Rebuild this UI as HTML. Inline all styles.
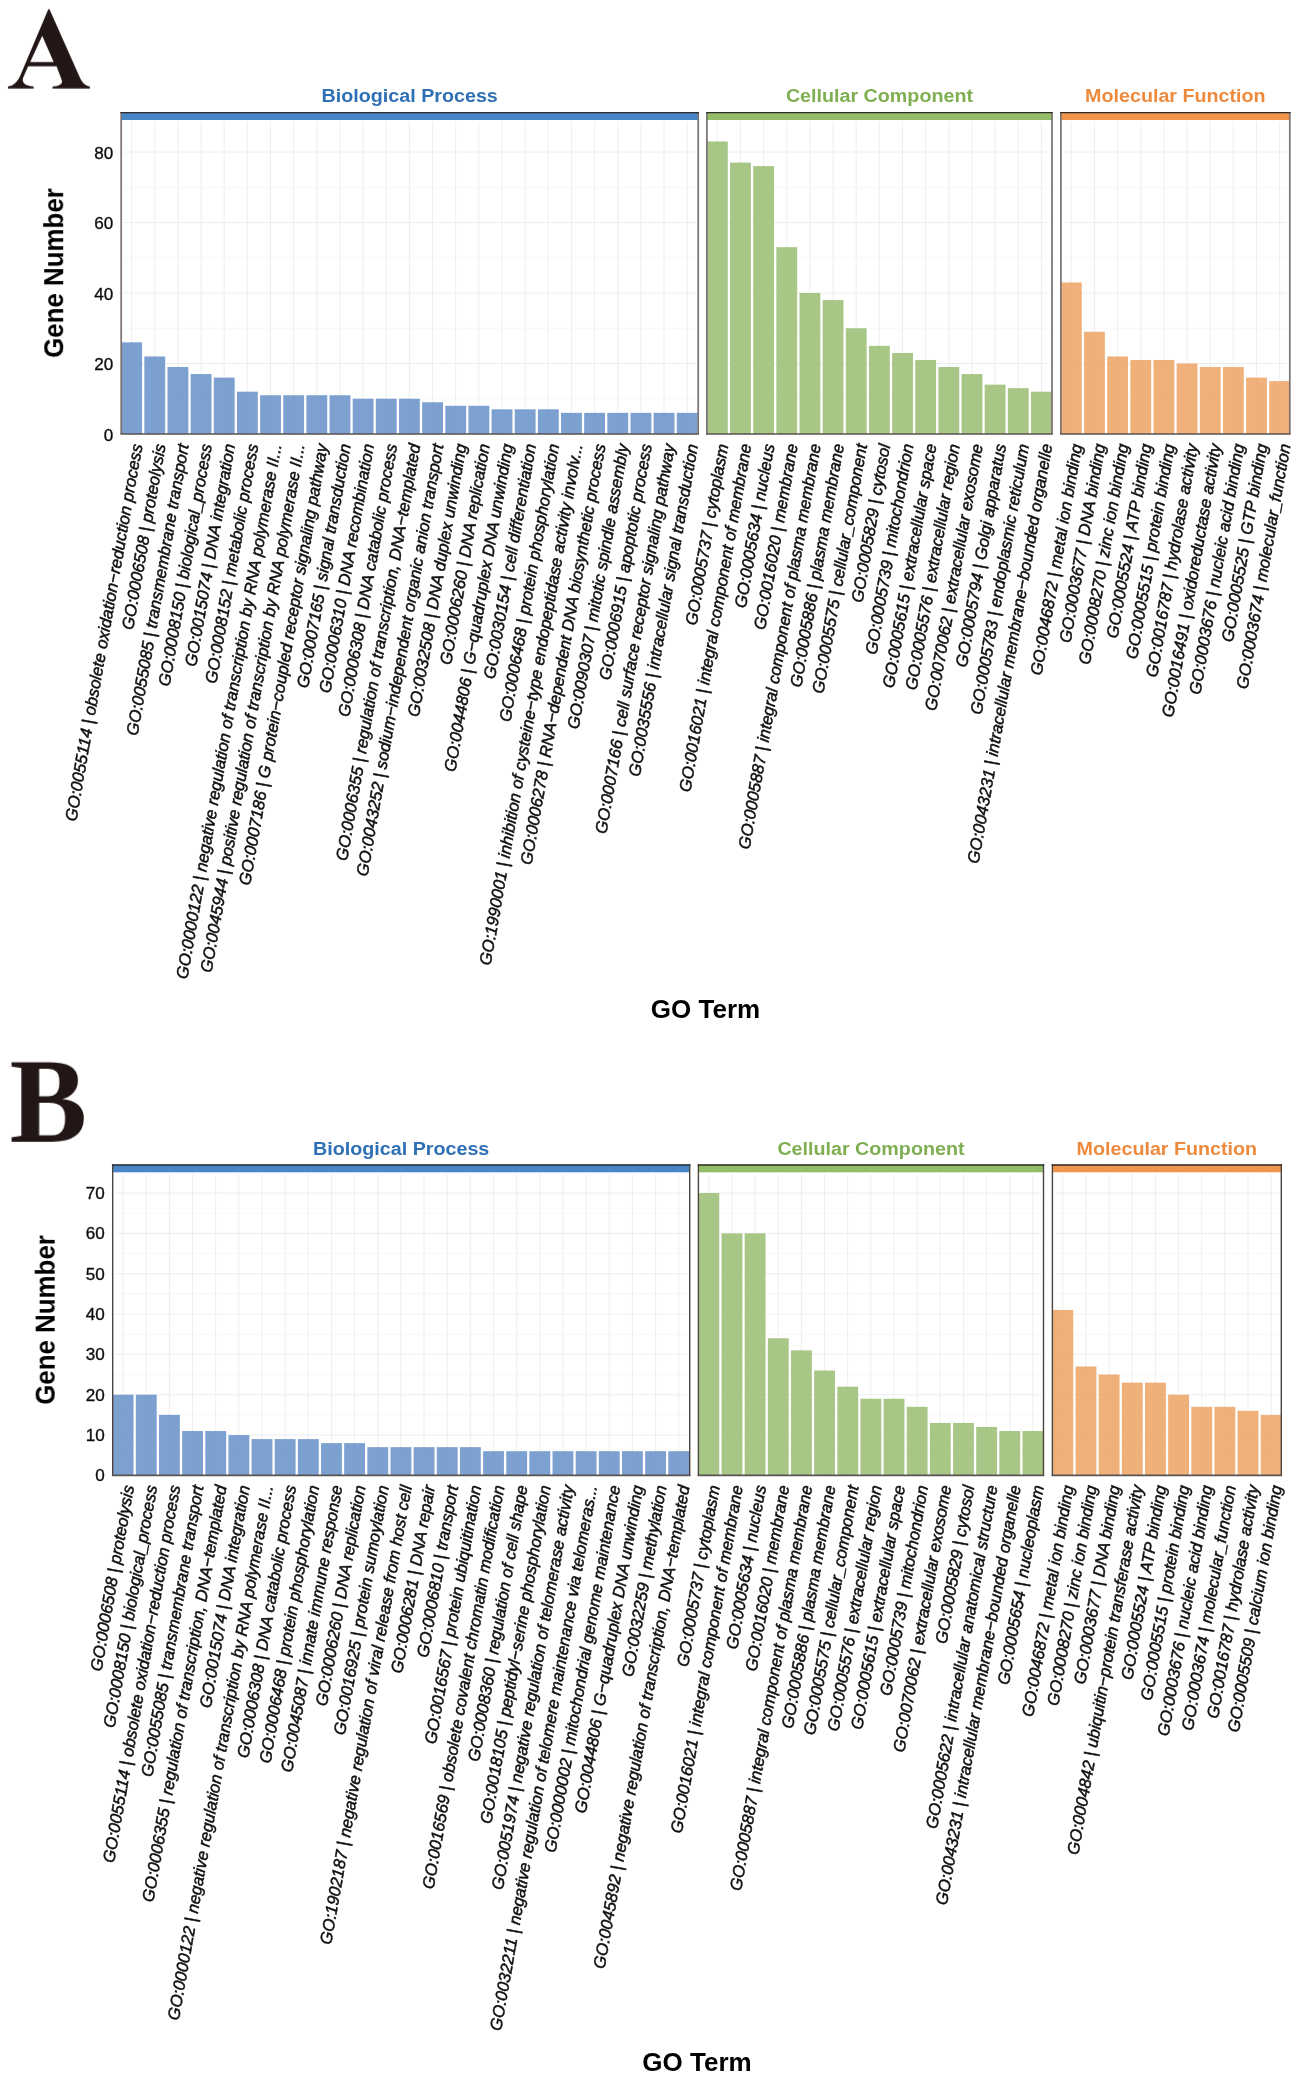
<!DOCTYPE html>
<html><head><meta charset="utf-8"><title>GO enrichment</title>
<style>
html,body{margin:0;padding:0;background:#fff;}
body{width:1299px;height:2081px;overflow:hidden;font-family:"Liberation Sans",sans-serif;}
svg{display:block;will-change:transform;font-family:"Liberation Sans",sans-serif;}
</style></head><body>
<svg width="1299" height="2081" viewBox="0 0 1299 2081">
<defs><filter id="soft" x="0" y="0" width="100%" height="100%" filterUnits="userSpaceOnUse"><feGaussianBlur stdDeviation="0.45"/></filter></defs>
<rect width="1299" height="2081" fill="#fff"/>
<g filter="url(#soft)">
<g id="panelA">
<rect x="121.2" y="112.2" width="577" height="321.8" fill="#fff"/>
<path d="M123.8 398.75H695.6M123.8 328.25H695.6M123.8 257.75H695.6M123.8 187.25H695.6" stroke="#f5f5f5" stroke-width="0.8" fill="none"/>
<path d="M123.8 434H695.6M123.8 363.5H695.6M123.8 293H695.6M123.8 222.5H695.6M123.8 152H695.6M131.62 121.8V434M154.77 121.8V434M177.92 121.8V434M201.07 121.8V434M224.22 121.8V434M247.37 121.8V434M270.52 121.8V434M293.67 121.8V434M316.82 121.8V434M339.97 121.8V434M363.12 121.8V434M386.27 121.8V434M409.42 121.8V434M432.57 121.8V434M455.72 121.8V434M478.87 121.8V434M502.02 121.8V434M525.17 121.8V434M548.32 121.8V434M571.47 121.8V434M594.62 121.8V434M617.77 121.8V434M640.92 121.8V434M664.07 121.8V434M687.22 121.8V434" stroke="#ebeced" stroke-width="0.9" fill="none"/>
<rect x="121.2" y="342.35" width="20.84" height="91.65" fill="#7199cb" fill-opacity="0.93"/>
<rect x="144.35" y="356.45" width="20.84" height="77.55" fill="#7199cb" fill-opacity="0.93"/>
<rect x="167.5" y="367.02" width="20.84" height="66.97" fill="#7199cb" fill-opacity="0.93"/>
<rect x="190.65" y="374.07" width="20.84" height="59.92" fill="#7199cb" fill-opacity="0.93"/>
<rect x="213.8" y="377.6" width="20.84" height="56.4" fill="#7199cb" fill-opacity="0.93"/>
<rect x="236.95" y="391.7" width="20.84" height="42.3" fill="#7199cb" fill-opacity="0.93"/>
<rect x="260.1" y="395.23" width="20.84" height="38.77" fill="#7199cb" fill-opacity="0.93"/>
<rect x="283.25" y="395.23" width="20.84" height="38.77" fill="#7199cb" fill-opacity="0.93"/>
<rect x="306.4" y="395.23" width="20.84" height="38.77" fill="#7199cb" fill-opacity="0.93"/>
<rect x="329.55" y="395.23" width="20.84" height="38.77" fill="#7199cb" fill-opacity="0.93"/>
<rect x="352.7" y="398.75" width="20.84" height="35.25" fill="#7199cb" fill-opacity="0.93"/>
<rect x="375.85" y="398.75" width="20.84" height="35.25" fill="#7199cb" fill-opacity="0.93"/>
<rect x="399" y="398.75" width="20.84" height="35.25" fill="#7199cb" fill-opacity="0.93"/>
<rect x="422.15" y="402.27" width="20.84" height="31.72" fill="#7199cb" fill-opacity="0.93"/>
<rect x="445.3" y="405.8" width="20.84" height="28.2" fill="#7199cb" fill-opacity="0.93"/>
<rect x="468.45" y="405.8" width="20.84" height="28.2" fill="#7199cb" fill-opacity="0.93"/>
<rect x="491.6" y="409.32" width="20.84" height="24.68" fill="#7199cb" fill-opacity="0.93"/>
<rect x="514.75" y="409.32" width="20.84" height="24.68" fill="#7199cb" fill-opacity="0.93"/>
<rect x="537.9" y="409.32" width="20.84" height="24.68" fill="#7199cb" fill-opacity="0.93"/>
<rect x="561.05" y="412.85" width="20.84" height="21.15" fill="#7199cb" fill-opacity="0.93"/>
<rect x="584.2" y="412.85" width="20.84" height="21.15" fill="#7199cb" fill-opacity="0.93"/>
<rect x="607.35" y="412.85" width="20.84" height="21.15" fill="#7199cb" fill-opacity="0.93"/>
<rect x="630.5" y="412.85" width="20.84" height="21.15" fill="#7199cb" fill-opacity="0.93"/>
<rect x="653.65" y="412.85" width="20.84" height="21.15" fill="#7199cb" fill-opacity="0.93"/>
<rect x="676.8" y="412.85" width="20.84" height="21.15" fill="#7199cb" fill-opacity="0.93"/>
<rect x="121.2" y="112.2" width="577" height="7.8" fill="#4a86c6"/>
<path d="M121.2 112.2V434M698.2 112.2V434" stroke="#7a716f" stroke-width="1.7" fill="none"/>
<path d="M120.4 434H699" stroke="#5a5352" stroke-width="1.6" fill="none"/>
<path d="M120.4 112.6H699" stroke="#2e2b2b" stroke-width="1.3" fill="none"/>
<text transform="translate(409.7 102.2) scale(1.095 1)" text-anchor="middle" font-weight="bold" font-size="18" fill="#2f6fb5">Biological Process</text>
<text transform="translate(142.62 445) rotate(-80)" text-anchor="end" font-style="italic" font-size="16.65" fill="#111" stroke="#111" stroke-width="0.5">GO:0055114 | obsolete oxidation−reduction process</text>
<text transform="translate(165.77 445) rotate(-80)" text-anchor="end" font-style="italic" font-size="16.65" fill="#111" stroke="#111" stroke-width="0.5">GO:0006508 | proteolysis</text>
<text transform="translate(188.92 445) rotate(-80)" text-anchor="end" font-style="italic" font-size="16.65" fill="#111" stroke="#111" stroke-width="0.5">GO:0055085 | transmembrane transport</text>
<text transform="translate(212.07 445) rotate(-80)" text-anchor="end" font-style="italic" font-size="16.65" fill="#111" stroke="#111" stroke-width="0.5">GO:0008150 | biological_process</text>
<text transform="translate(235.22 445) rotate(-80)" text-anchor="end" font-style="italic" font-size="16.65" fill="#111" stroke="#111" stroke-width="0.5">GO:0015074 | DNA integration</text>
<text transform="translate(258.37 445) rotate(-80)" text-anchor="end" font-style="italic" font-size="16.65" fill="#111" stroke="#111" stroke-width="0.5">GO:0008152 | metabolic process</text>
<text transform="translate(281.52 445) rotate(-80)" text-anchor="end" font-style="italic" font-size="16.65" fill="#111" stroke="#111" stroke-width="0.5">GO:0000122 | negative regulation of transcription by RNA polymerase II...</text>
<text transform="translate(304.67 445) rotate(-80)" text-anchor="end" font-style="italic" font-size="16.65" fill="#111" stroke="#111" stroke-width="0.5">GO:0045944 | positive regulation of transcription by RNA polymerase II...</text>
<text transform="translate(327.82 445) rotate(-80)" text-anchor="end" font-style="italic" font-size="16.65" fill="#111" stroke="#111" stroke-width="0.5">GO:0007186 | G protein−coupled receptor signaling pathway</text>
<text transform="translate(350.97 445) rotate(-80)" text-anchor="end" font-style="italic" font-size="16.65" fill="#111" stroke="#111" stroke-width="0.5">GO:0007165 | signal transduction</text>
<text transform="translate(374.12 445) rotate(-80)" text-anchor="end" font-style="italic" font-size="16.65" fill="#111" stroke="#111" stroke-width="0.5">GO:0006310 | DNA recombination</text>
<text transform="translate(397.27 445) rotate(-80)" text-anchor="end" font-style="italic" font-size="16.65" fill="#111" stroke="#111" stroke-width="0.5">GO:0006308 | DNA catabolic process</text>
<text transform="translate(420.42 445) rotate(-80)" text-anchor="end" font-style="italic" font-size="16.65" fill="#111" stroke="#111" stroke-width="0.5">GO:0006355 | regulation of transcription, DNA−templated</text>
<text transform="translate(443.57 445) rotate(-80)" text-anchor="end" font-style="italic" font-size="16.65" fill="#111" stroke="#111" stroke-width="0.5">GO:0043252 | sodium−independent organic anion transport</text>
<text transform="translate(466.72 445) rotate(-80)" text-anchor="end" font-style="italic" font-size="16.65" fill="#111" stroke="#111" stroke-width="0.5">GO:0032508 | DNA duplex unwinding</text>
<text transform="translate(489.87 445) rotate(-80)" text-anchor="end" font-style="italic" font-size="16.65" fill="#111" stroke="#111" stroke-width="0.5">GO:0006260 | DNA replication</text>
<text transform="translate(513.02 445) rotate(-80)" text-anchor="end" font-style="italic" font-size="16.65" fill="#111" stroke="#111" stroke-width="0.5">GO:0044806 | G−quadruplex DNA unwinding</text>
<text transform="translate(536.17 445) rotate(-80)" text-anchor="end" font-style="italic" font-size="16.65" fill="#111" stroke="#111" stroke-width="0.5">GO:0030154 | cell differentiation</text>
<text transform="translate(559.32 445) rotate(-80)" text-anchor="end" font-style="italic" font-size="16.65" fill="#111" stroke="#111" stroke-width="0.5">GO:0006468 | protein phosphorylation</text>
<text transform="translate(582.47 445) rotate(-80)" text-anchor="end" font-style="italic" font-size="16.65" fill="#111" stroke="#111" stroke-width="0.5">GO:1990001 | inhibition of cysteine−type endopeptidase activity involv...</text>
<text transform="translate(605.62 445) rotate(-80)" text-anchor="end" font-style="italic" font-size="16.65" fill="#111" stroke="#111" stroke-width="0.5">GO:0006278 | RNA−dependent DNA biosynthetic process</text>
<text transform="translate(628.77 445) rotate(-80)" text-anchor="end" font-style="italic" font-size="16.65" fill="#111" stroke="#111" stroke-width="0.5">GO:0090307 | mitotic spindle assembly</text>
<text transform="translate(651.92 445) rotate(-80)" text-anchor="end" font-style="italic" font-size="16.65" fill="#111" stroke="#111" stroke-width="0.5">GO:0006915 | apoptotic process</text>
<text transform="translate(675.07 445) rotate(-80)" text-anchor="end" font-style="italic" font-size="16.65" fill="#111" stroke="#111" stroke-width="0.5">GO:0007166 | cell surface receptor signaling pathway</text>
<text transform="translate(698.22 445) rotate(-80)" text-anchor="end" font-style="italic" font-size="16.65" fill="#111" stroke="#111" stroke-width="0.5">GO:0035556 | intracellular signal transduction</text>
<rect x="706.9" y="112.2" width="345.1" height="321.8" fill="#fff"/>
<path d="M709.5 398.75H1049.4M709.5 328.25H1049.4M709.5 257.75H1049.4M709.5 187.25H1049.4" stroke="#f5f5f5" stroke-width="0.8" fill="none"/>
<path d="M709.5 434H1049.4M709.5 363.5H1049.4M709.5 293H1049.4M709.5 222.5H1049.4M709.5 152H1049.4M717.32 121.8V434M740.47 121.8V434M763.62 121.8V434M786.77 121.8V434M809.92 121.8V434M833.07 121.8V434M856.22 121.8V434M879.37 121.8V434M902.52 121.8V434M925.67 121.8V434M948.82 121.8V434M971.97 121.8V434M995.12 121.8V434M1018.27 121.8V434M1041.42 121.8V434" stroke="#ebeced" stroke-width="0.9" fill="none"/>
<rect x="706.9" y="141.43" width="20.84" height="292.57" fill="#a1c27d" fill-opacity="0.93"/>
<rect x="730.05" y="162.57" width="20.84" height="271.43" fill="#a1c27d" fill-opacity="0.93"/>
<rect x="753.2" y="166.1" width="20.84" height="267.9" fill="#a1c27d" fill-opacity="0.93"/>
<rect x="776.35" y="247.18" width="20.84" height="186.82" fill="#a1c27d" fill-opacity="0.93"/>
<rect x="799.5" y="293" width="20.84" height="141" fill="#a1c27d" fill-opacity="0.93"/>
<rect x="822.65" y="300.05" width="20.84" height="133.95" fill="#a1c27d" fill-opacity="0.93"/>
<rect x="845.8" y="328.25" width="20.84" height="105.75" fill="#a1c27d" fill-opacity="0.93"/>
<rect x="868.95" y="345.88" width="20.84" height="88.12" fill="#a1c27d" fill-opacity="0.93"/>
<rect x="892.1" y="352.93" width="20.84" height="81.08" fill="#a1c27d" fill-opacity="0.93"/>
<rect x="915.25" y="359.98" width="20.84" height="74.02" fill="#a1c27d" fill-opacity="0.93"/>
<rect x="938.4" y="367.02" width="20.84" height="66.97" fill="#a1c27d" fill-opacity="0.93"/>
<rect x="961.55" y="374.07" width="20.84" height="59.92" fill="#a1c27d" fill-opacity="0.93"/>
<rect x="984.7" y="384.65" width="20.84" height="49.35" fill="#a1c27d" fill-opacity="0.93"/>
<rect x="1007.85" y="388.18" width="20.84" height="45.82" fill="#a1c27d" fill-opacity="0.93"/>
<rect x="1031" y="391.7" width="20.84" height="42.3" fill="#a1c27d" fill-opacity="0.93"/>
<rect x="706.9" y="112.2" width="345.1" height="7.8" fill="#93bd66"/>
<path d="M706.9 112.2V434M1052 112.2V434" stroke="#7a716f" stroke-width="1.7" fill="none"/>
<path d="M706.1 434H1052.8" stroke="#5a5352" stroke-width="1.6" fill="none"/>
<path d="M706.1 112.6H1052.8" stroke="#2e2b2b" stroke-width="1.3" fill="none"/>
<text transform="translate(879.45 102.2) scale(1.095 1)" text-anchor="middle" font-weight="bold" font-size="18" fill="#7fae52">Cellular Component</text>
<text transform="translate(728.32 445) rotate(-80)" text-anchor="end" font-style="italic" font-size="16.65" fill="#111" stroke="#111" stroke-width="0.5">GO:0005737 | cytoplasm</text>
<text transform="translate(751.47 445) rotate(-80)" text-anchor="end" font-style="italic" font-size="16.65" fill="#111" stroke="#111" stroke-width="0.5">GO:0016021 | integral component of membrane</text>
<text transform="translate(774.62 445) rotate(-80)" text-anchor="end" font-style="italic" font-size="16.65" fill="#111" stroke="#111" stroke-width="0.5">GO:0005634 | nucleus</text>
<text transform="translate(797.77 445) rotate(-80)" text-anchor="end" font-style="italic" font-size="16.65" fill="#111" stroke="#111" stroke-width="0.5">GO:0016020 | membrane</text>
<text transform="translate(820.92 445) rotate(-80)" text-anchor="end" font-style="italic" font-size="16.65" fill="#111" stroke="#111" stroke-width="0.5">GO:0005887 | integral component of plasma membrane</text>
<text transform="translate(844.07 445) rotate(-80)" text-anchor="end" font-style="italic" font-size="16.65" fill="#111" stroke="#111" stroke-width="0.5">GO:0005886 | plasma membrane</text>
<text transform="translate(867.22 445) rotate(-80)" text-anchor="end" font-style="italic" font-size="16.65" fill="#111" stroke="#111" stroke-width="0.5">GO:0005575 | cellular_component</text>
<text transform="translate(890.37 445) rotate(-80)" text-anchor="end" font-style="italic" font-size="16.65" fill="#111" stroke="#111" stroke-width="0.5">GO:0005829 | cytosol</text>
<text transform="translate(913.52 445) rotate(-80)" text-anchor="end" font-style="italic" font-size="16.65" fill="#111" stroke="#111" stroke-width="0.5">GO:0005739 | mitochondrion</text>
<text transform="translate(936.67 445) rotate(-80)" text-anchor="end" font-style="italic" font-size="16.65" fill="#111" stroke="#111" stroke-width="0.5">GO:0005615 | extracellular space</text>
<text transform="translate(959.82 445) rotate(-80)" text-anchor="end" font-style="italic" font-size="16.65" fill="#111" stroke="#111" stroke-width="0.5">GO:0005576 | extracellular region</text>
<text transform="translate(982.97 445) rotate(-80)" text-anchor="end" font-style="italic" font-size="16.65" fill="#111" stroke="#111" stroke-width="0.5">GO:0070062 | extracellular exosome</text>
<text transform="translate(1006.12 445) rotate(-80)" text-anchor="end" font-style="italic" font-size="16.65" fill="#111" stroke="#111" stroke-width="0.5">GO:0005794 | Golgi apparatus</text>
<text transform="translate(1029.27 445) rotate(-80)" text-anchor="end" font-style="italic" font-size="16.65" fill="#111" stroke="#111" stroke-width="0.5">GO:0005783 | endoplasmic reticulum</text>
<text transform="translate(1052.42 445) rotate(-80)" text-anchor="end" font-style="italic" font-size="16.65" fill="#111" stroke="#111" stroke-width="0.5">GO:0043231 | intracellular membrane−bounded organelle</text>
<rect x="1060.9" y="112.2" width="228.9" height="321.8" fill="#fff"/>
<path d="M1063.5 398.75H1287.2M1063.5 328.25H1287.2M1063.5 257.75H1287.2M1063.5 187.25H1287.2" stroke="#f5f5f5" stroke-width="0.8" fill="none"/>
<path d="M1063.5 434H1287.2M1063.5 363.5H1287.2M1063.5 293H1287.2M1063.5 222.5H1287.2M1063.5 152H1287.2M1071.32 121.8V434M1094.47 121.8V434M1117.62 121.8V434M1140.77 121.8V434M1163.92 121.8V434M1187.07 121.8V434M1210.22 121.8V434M1233.37 121.8V434M1256.52 121.8V434M1279.67 121.8V434" stroke="#ebeced" stroke-width="0.9" fill="none"/>
<rect x="1060.9" y="282.43" width="20.84" height="151.57" fill="#efaa70" fill-opacity="0.93"/>
<rect x="1084.05" y="331.77" width="20.84" height="102.22" fill="#efaa70" fill-opacity="0.93"/>
<rect x="1107.2" y="356.45" width="20.84" height="77.55" fill="#efaa70" fill-opacity="0.93"/>
<rect x="1130.35" y="359.98" width="20.84" height="74.02" fill="#efaa70" fill-opacity="0.93"/>
<rect x="1153.5" y="359.98" width="20.84" height="74.02" fill="#efaa70" fill-opacity="0.93"/>
<rect x="1176.65" y="363.5" width="20.84" height="70.5" fill="#efaa70" fill-opacity="0.93"/>
<rect x="1199.8" y="367.02" width="20.84" height="66.97" fill="#efaa70" fill-opacity="0.93"/>
<rect x="1222.95" y="367.02" width="20.84" height="66.97" fill="#efaa70" fill-opacity="0.93"/>
<rect x="1246.1" y="377.6" width="20.84" height="56.4" fill="#efaa70" fill-opacity="0.93"/>
<rect x="1269.25" y="381.12" width="20.84" height="52.88" fill="#efaa70" fill-opacity="0.93"/>
<rect x="1060.9" y="112.2" width="228.9" height="7.8" fill="#f0954c"/>
<path d="M1060.9 112.2V434M1289.8 112.2V434" stroke="#7a716f" stroke-width="1.7" fill="none"/>
<path d="M1060.1 434H1290.6" stroke="#5a5352" stroke-width="1.6" fill="none"/>
<path d="M1060.1 112.6H1290.6" stroke="#2e2b2b" stroke-width="1.3" fill="none"/>
<text transform="translate(1175.35 102.2) scale(1.095 1)" text-anchor="middle" font-weight="bold" font-size="18" fill="#ee8a3c">Molecular Function</text>
<text transform="translate(1082.32 445) rotate(-80)" text-anchor="end" font-style="italic" font-size="16.65" fill="#111" stroke="#111" stroke-width="0.5">GO:0046872 | metal ion binding</text>
<text transform="translate(1105.47 445) rotate(-80)" text-anchor="end" font-style="italic" font-size="16.65" fill="#111" stroke="#111" stroke-width="0.5">GO:0003677 | DNA binding</text>
<text transform="translate(1128.62 445) rotate(-80)" text-anchor="end" font-style="italic" font-size="16.65" fill="#111" stroke="#111" stroke-width="0.5">GO:0008270 | zinc ion binding</text>
<text transform="translate(1151.77 445) rotate(-80)" text-anchor="end" font-style="italic" font-size="16.65" fill="#111" stroke="#111" stroke-width="0.5">GO:0005524 | ATP binding</text>
<text transform="translate(1174.92 445) rotate(-80)" text-anchor="end" font-style="italic" font-size="16.65" fill="#111" stroke="#111" stroke-width="0.5">GO:0005515 | protein binding</text>
<text transform="translate(1198.07 445) rotate(-80)" text-anchor="end" font-style="italic" font-size="16.65" fill="#111" stroke="#111" stroke-width="0.5">GO:0016787 | hydrolase activity</text>
<text transform="translate(1221.22 445) rotate(-80)" text-anchor="end" font-style="italic" font-size="16.65" fill="#111" stroke="#111" stroke-width="0.5">GO:0016491 | oxidoreductase activity</text>
<text transform="translate(1244.37 445) rotate(-80)" text-anchor="end" font-style="italic" font-size="16.65" fill="#111" stroke="#111" stroke-width="0.5">GO:0003676 | nucleic acid binding</text>
<text transform="translate(1267.52 445) rotate(-80)" text-anchor="end" font-style="italic" font-size="16.65" fill="#111" stroke="#111" stroke-width="0.5">GO:0005525 | GTP binding</text>
<text transform="translate(1290.67 445) rotate(-80)" text-anchor="end" font-style="italic" font-size="16.65" fill="#111" stroke="#111" stroke-width="0.5">GO:0003674 | molecular_function</text>
<text transform="translate(113.3 440.5) scale(1.03 1)" text-anchor="end" font-size="16.6" fill="#111" stroke="#111" stroke-width="0.35">0</text>
<text transform="translate(113.3 370) scale(1.03 1)" text-anchor="end" font-size="16.6" fill="#111" stroke="#111" stroke-width="0.35">20</text>
<text transform="translate(113.3 299.5) scale(1.03 1)" text-anchor="end" font-size="16.6" fill="#111" stroke="#111" stroke-width="0.35">40</text>
<text transform="translate(113.3 229) scale(1.03 1)" text-anchor="end" font-size="16.6" fill="#111" stroke="#111" stroke-width="0.35">60</text>
<text transform="translate(113.3 158.5) scale(1.03 1)" text-anchor="end" font-size="16.6" fill="#111" stroke="#111" stroke-width="0.35">80</text>
<text transform="translate(63.1 273.1) rotate(-90) scale(1 1.08)" text-anchor="middle" font-weight="bold" font-size="25.9" fill="#000">Gene Number</text>
<text x="705.5" y="1018" text-anchor="middle" font-weight="bold" font-size="26" fill="#000">GO Term</text>
<path transform="scale(0.07698)" d="M640 114L1035 1000C1060 1062 1100 1110 1168 1124L1168 1150L682 1150L682 1124C760 1118 812 1100 805 1050L735 862L365 862L300 1010C282 1062 310 1112 437 1124L437 1150L103 1150L103 1124C170 1110 215 1078 255 1000L624 126ZM548 465L697 805L392 805Z" fill="#231815" fill-rule="evenodd"/>
</g>
<g id="panelB">
<rect x="112.7" y="1164.6" width="577" height="310.8" fill="#fff"/>
<path d="M115.3 1455.23H687.1M115.3 1414.89H687.1M115.3 1374.54H687.1M115.3 1334.2H687.1M115.3 1293.86H687.1M115.3 1253.51H687.1M115.3 1213.17H687.1" stroke="#f5f5f5" stroke-width="0.8" fill="none"/>
<path d="M115.3 1475.4H687.1M115.3 1435.06H687.1M115.3 1394.71H687.1M115.3 1354.37H687.1M115.3 1314.03H687.1M115.3 1273.69H687.1M115.3 1233.34H687.1M115.3 1193H687.1M123.12 1174.1V1475.4M146.27 1174.1V1475.4M169.42 1174.1V1475.4M192.57 1174.1V1475.4M215.72 1174.1V1475.4M238.87 1174.1V1475.4M262.02 1174.1V1475.4M285.17 1174.1V1475.4M308.32 1174.1V1475.4M331.47 1174.1V1475.4M354.62 1174.1V1475.4M377.77 1174.1V1475.4M400.92 1174.1V1475.4M424.07 1174.1V1475.4M447.22 1174.1V1475.4M470.37 1174.1V1475.4M493.52 1174.1V1475.4M516.67 1174.1V1475.4M539.82 1174.1V1475.4M562.97 1174.1V1475.4M586.12 1174.1V1475.4M609.27 1174.1V1475.4M632.42 1174.1V1475.4M655.57 1174.1V1475.4M678.72 1174.1V1475.4" stroke="#ebeced" stroke-width="0.9" fill="none"/>
<rect x="112.7" y="1394.71" width="20.84" height="80.69" fill="#7199cb" fill-opacity="0.93"/>
<rect x="135.85" y="1394.71" width="20.84" height="80.69" fill="#7199cb" fill-opacity="0.93"/>
<rect x="159" y="1414.89" width="20.84" height="60.51" fill="#7199cb" fill-opacity="0.93"/>
<rect x="182.15" y="1431.02" width="20.84" height="44.38" fill="#7199cb" fill-opacity="0.93"/>
<rect x="205.3" y="1431.02" width="20.84" height="44.38" fill="#7199cb" fill-opacity="0.93"/>
<rect x="228.45" y="1435.06" width="20.84" height="40.34" fill="#7199cb" fill-opacity="0.93"/>
<rect x="251.6" y="1439.09" width="20.84" height="36.31" fill="#7199cb" fill-opacity="0.93"/>
<rect x="274.75" y="1439.09" width="20.84" height="36.31" fill="#7199cb" fill-opacity="0.93"/>
<rect x="297.9" y="1439.09" width="20.84" height="36.31" fill="#7199cb" fill-opacity="0.93"/>
<rect x="321.05" y="1443.13" width="20.84" height="32.27" fill="#7199cb" fill-opacity="0.93"/>
<rect x="344.2" y="1443.13" width="20.84" height="32.27" fill="#7199cb" fill-opacity="0.93"/>
<rect x="367.35" y="1447.16" width="20.84" height="28.24" fill="#7199cb" fill-opacity="0.93"/>
<rect x="390.5" y="1447.16" width="20.84" height="28.24" fill="#7199cb" fill-opacity="0.93"/>
<rect x="413.65" y="1447.16" width="20.84" height="28.24" fill="#7199cb" fill-opacity="0.93"/>
<rect x="436.8" y="1447.16" width="20.84" height="28.24" fill="#7199cb" fill-opacity="0.93"/>
<rect x="459.95" y="1447.16" width="20.84" height="28.24" fill="#7199cb" fill-opacity="0.93"/>
<rect x="483.1" y="1451.19" width="20.84" height="24.21" fill="#7199cb" fill-opacity="0.93"/>
<rect x="506.25" y="1451.19" width="20.84" height="24.21" fill="#7199cb" fill-opacity="0.93"/>
<rect x="529.4" y="1451.19" width="20.84" height="24.21" fill="#7199cb" fill-opacity="0.93"/>
<rect x="552.55" y="1451.19" width="20.84" height="24.21" fill="#7199cb" fill-opacity="0.93"/>
<rect x="575.7" y="1451.19" width="20.84" height="24.21" fill="#7199cb" fill-opacity="0.93"/>
<rect x="598.85" y="1451.19" width="20.84" height="24.21" fill="#7199cb" fill-opacity="0.93"/>
<rect x="622" y="1451.19" width="20.84" height="24.21" fill="#7199cb" fill-opacity="0.93"/>
<rect x="645.15" y="1451.19" width="20.84" height="24.21" fill="#7199cb" fill-opacity="0.93"/>
<rect x="668.3" y="1451.19" width="20.84" height="24.21" fill="#7199cb" fill-opacity="0.93"/>
<rect x="112.7" y="1164.6" width="577" height="7.7" fill="#4a86c6"/>
<path d="M112.7 1164.6V1475.4M689.7 1164.6V1475.4" stroke="#4c4543" stroke-width="1.4" fill="none"/>
<path d="M111.9 1475.4H690.5" stroke="#5a5352" stroke-width="1.6" fill="none"/>
<path d="M111.9 1165H690.5" stroke="#2e2b2b" stroke-width="1.3" fill="none"/>
<text transform="translate(401.2 1154.6) scale(1.095 1)" text-anchor="middle" font-weight="bold" font-size="18" fill="#2f6fb5">Biological Process</text>
<text transform="translate(134.12 1486.4) rotate(-80)" text-anchor="end" font-style="italic" font-size="16.65" fill="#111" stroke="#111" stroke-width="0.5">GO:0006508 | proteolysis</text>
<text transform="translate(157.27 1486.4) rotate(-80)" text-anchor="end" font-style="italic" font-size="16.65" fill="#111" stroke="#111" stroke-width="0.5">GO:0008150 | biological_process</text>
<text transform="translate(180.42 1486.4) rotate(-80)" text-anchor="end" font-style="italic" font-size="16.65" fill="#111" stroke="#111" stroke-width="0.5">GO:0055114 | obsolete oxidation−reduction process</text>
<text transform="translate(203.57 1486.4) rotate(-80)" text-anchor="end" font-style="italic" font-size="16.65" fill="#111" stroke="#111" stroke-width="0.5">GO:0055085 | transmembrane transport</text>
<text transform="translate(226.72 1486.4) rotate(-80)" text-anchor="end" font-style="italic" font-size="16.65" fill="#111" stroke="#111" stroke-width="0.5">GO:0006355 | regulation of transcription, DNA−templated</text>
<text transform="translate(249.87 1486.4) rotate(-80)" text-anchor="end" font-style="italic" font-size="16.65" fill="#111" stroke="#111" stroke-width="0.5">GO:0015074 | DNA integration</text>
<text transform="translate(273.02 1486.4) rotate(-80)" text-anchor="end" font-style="italic" font-size="16.65" fill="#111" stroke="#111" stroke-width="0.5">GO:0000122 | negative regulation of transcription by RNA polymerase II...</text>
<text transform="translate(296.17 1486.4) rotate(-80)" text-anchor="end" font-style="italic" font-size="16.65" fill="#111" stroke="#111" stroke-width="0.5">GO:0006308 | DNA catabolic process</text>
<text transform="translate(319.32 1486.4) rotate(-80)" text-anchor="end" font-style="italic" font-size="16.65" fill="#111" stroke="#111" stroke-width="0.5">GO:0006468 | protein phosphorylation</text>
<text transform="translate(342.47 1486.4) rotate(-80)" text-anchor="end" font-style="italic" font-size="16.65" fill="#111" stroke="#111" stroke-width="0.5">GO:0045087 | innate immune response</text>
<text transform="translate(365.62 1486.4) rotate(-80)" text-anchor="end" font-style="italic" font-size="16.65" fill="#111" stroke="#111" stroke-width="0.5">GO:0006260 | DNA replication</text>
<text transform="translate(388.77 1486.4) rotate(-80)" text-anchor="end" font-style="italic" font-size="16.65" fill="#111" stroke="#111" stroke-width="0.5">GO:0016925 | protein sumoylation</text>
<text transform="translate(411.92 1486.4) rotate(-80)" text-anchor="end" font-style="italic" font-size="16.65" fill="#111" stroke="#111" stroke-width="0.5">GO:1902187 | negative regulation of viral release from host cell</text>
<text transform="translate(435.07 1486.4) rotate(-80)" text-anchor="end" font-style="italic" font-size="16.65" fill="#111" stroke="#111" stroke-width="0.5">GO:0006281 | DNA repair</text>
<text transform="translate(458.22 1486.4) rotate(-80)" text-anchor="end" font-style="italic" font-size="16.65" fill="#111" stroke="#111" stroke-width="0.5">GO:0006810 | transport</text>
<text transform="translate(481.37 1486.4) rotate(-80)" text-anchor="end" font-style="italic" font-size="16.65" fill="#111" stroke="#111" stroke-width="0.5">GO:0016567 | protein ubiquitination</text>
<text transform="translate(504.52 1486.4) rotate(-80)" text-anchor="end" font-style="italic" font-size="16.65" fill="#111" stroke="#111" stroke-width="0.5">GO:0016569 | obsolete covalent chromatin modification</text>
<text transform="translate(527.67 1486.4) rotate(-80)" text-anchor="end" font-style="italic" font-size="16.65" fill="#111" stroke="#111" stroke-width="0.5">GO:0008360 | regulation of cell shape</text>
<text transform="translate(550.82 1486.4) rotate(-80)" text-anchor="end" font-style="italic" font-size="16.65" fill="#111" stroke="#111" stroke-width="0.5">GO:0018105 | peptidyl−serine phosphorylation</text>
<text transform="translate(573.97 1486.4) rotate(-80)" text-anchor="end" font-style="italic" font-size="16.65" fill="#111" stroke="#111" stroke-width="0.5">GO:0051974 | negative regulation of telomerase activity</text>
<text transform="translate(597.12 1486.4) rotate(-80)" text-anchor="end" font-style="italic" font-size="16.65" fill="#111" stroke="#111" stroke-width="0.5">GO:0032211 | negative regulation of telomere maintenance via telomeras...</text>
<text transform="translate(620.27 1486.4) rotate(-80)" text-anchor="end" font-style="italic" font-size="16.65" fill="#111" stroke="#111" stroke-width="0.5">GO:0000002 | mitochondrial genome maintenance</text>
<text transform="translate(643.42 1486.4) rotate(-80)" text-anchor="end" font-style="italic" font-size="16.65" fill="#111" stroke="#111" stroke-width="0.5">GO:0044806 | G−quadruplex DNA unwinding</text>
<text transform="translate(666.57 1486.4) rotate(-80)" text-anchor="end" font-style="italic" font-size="16.65" fill="#111" stroke="#111" stroke-width="0.5">GO:0032259 | methylation</text>
<text transform="translate(689.72 1486.4) rotate(-80)" text-anchor="end" font-style="italic" font-size="16.65" fill="#111" stroke="#111" stroke-width="0.5">GO:0045892 | negative regulation of transcription, DNA−templated</text>
<rect x="698.4" y="1164.6" width="345.1" height="310.8" fill="#fff"/>
<path d="M701 1455.23H1040.9M701 1414.89H1040.9M701 1374.54H1040.9M701 1334.2H1040.9M701 1293.86H1040.9M701 1253.51H1040.9M701 1213.17H1040.9" stroke="#f5f5f5" stroke-width="0.8" fill="none"/>
<path d="M701 1475.4H1040.9M701 1435.06H1040.9M701 1394.71H1040.9M701 1354.37H1040.9M701 1314.03H1040.9M701 1273.69H1040.9M701 1233.34H1040.9M701 1193H1040.9M708.82 1174.1V1475.4M731.97 1174.1V1475.4M755.12 1174.1V1475.4M778.27 1174.1V1475.4M801.42 1174.1V1475.4M824.57 1174.1V1475.4M847.72 1174.1V1475.4M870.87 1174.1V1475.4M894.02 1174.1V1475.4M917.17 1174.1V1475.4M940.32 1174.1V1475.4M963.47 1174.1V1475.4M986.62 1174.1V1475.4M1009.77 1174.1V1475.4M1032.92 1174.1V1475.4" stroke="#ebeced" stroke-width="0.9" fill="none"/>
<rect x="698.4" y="1193" width="20.84" height="282.4" fill="#a1c27d" fill-opacity="0.93"/>
<rect x="721.55" y="1233.34" width="20.84" height="242.06" fill="#a1c27d" fill-opacity="0.93"/>
<rect x="744.7" y="1233.34" width="20.84" height="242.06" fill="#a1c27d" fill-opacity="0.93"/>
<rect x="767.85" y="1338.23" width="20.84" height="137.17" fill="#a1c27d" fill-opacity="0.93"/>
<rect x="791" y="1350.34" width="20.84" height="125.06" fill="#a1c27d" fill-opacity="0.93"/>
<rect x="814.15" y="1370.51" width="20.84" height="104.89" fill="#a1c27d" fill-opacity="0.93"/>
<rect x="837.3" y="1386.65" width="20.84" height="88.75" fill="#a1c27d" fill-opacity="0.93"/>
<rect x="860.45" y="1398.75" width="20.84" height="76.65" fill="#a1c27d" fill-opacity="0.93"/>
<rect x="883.6" y="1398.75" width="20.84" height="76.65" fill="#a1c27d" fill-opacity="0.93"/>
<rect x="906.75" y="1406.82" width="20.84" height="68.58" fill="#a1c27d" fill-opacity="0.93"/>
<rect x="929.9" y="1422.95" width="20.84" height="52.45" fill="#a1c27d" fill-opacity="0.93"/>
<rect x="953.05" y="1422.95" width="20.84" height="52.45" fill="#a1c27d" fill-opacity="0.93"/>
<rect x="976.2" y="1426.99" width="20.84" height="48.41" fill="#a1c27d" fill-opacity="0.93"/>
<rect x="999.35" y="1431.02" width="20.84" height="44.38" fill="#a1c27d" fill-opacity="0.93"/>
<rect x="1022.5" y="1431.02" width="20.84" height="44.38" fill="#a1c27d" fill-opacity="0.93"/>
<rect x="698.4" y="1164.6" width="345.1" height="7.7" fill="#93bd66"/>
<path d="M698.4 1164.6V1475.4M1043.5 1164.6V1475.4" stroke="#4c4543" stroke-width="1.4" fill="none"/>
<path d="M697.6 1475.4H1044.3" stroke="#5a5352" stroke-width="1.6" fill="none"/>
<path d="M697.6 1165H1044.3" stroke="#2e2b2b" stroke-width="1.3" fill="none"/>
<text transform="translate(870.95 1154.6) scale(1.095 1)" text-anchor="middle" font-weight="bold" font-size="18" fill="#7fae52">Cellular Component</text>
<text transform="translate(719.82 1486.4) rotate(-80)" text-anchor="end" font-style="italic" font-size="16.65" fill="#111" stroke="#111" stroke-width="0.5">GO:0005737 | cytoplasm</text>
<text transform="translate(742.97 1486.4) rotate(-80)" text-anchor="end" font-style="italic" font-size="16.65" fill="#111" stroke="#111" stroke-width="0.5">GO:0016021 | integral component of membrane</text>
<text transform="translate(766.12 1486.4) rotate(-80)" text-anchor="end" font-style="italic" font-size="16.65" fill="#111" stroke="#111" stroke-width="0.5">GO:0005634 | nucleus</text>
<text transform="translate(789.27 1486.4) rotate(-80)" text-anchor="end" font-style="italic" font-size="16.65" fill="#111" stroke="#111" stroke-width="0.5">GO:0016020 | membrane</text>
<text transform="translate(812.42 1486.4) rotate(-80)" text-anchor="end" font-style="italic" font-size="16.65" fill="#111" stroke="#111" stroke-width="0.5">GO:0005887 | integral component of plasma membrane</text>
<text transform="translate(835.57 1486.4) rotate(-80)" text-anchor="end" font-style="italic" font-size="16.65" fill="#111" stroke="#111" stroke-width="0.5">GO:0005886 | plasma membrane</text>
<text transform="translate(858.72 1486.4) rotate(-80)" text-anchor="end" font-style="italic" font-size="16.65" fill="#111" stroke="#111" stroke-width="0.5">GO:0005575 | cellular_component</text>
<text transform="translate(881.87 1486.4) rotate(-80)" text-anchor="end" font-style="italic" font-size="16.65" fill="#111" stroke="#111" stroke-width="0.5">GO:0005576 | extracellular region</text>
<text transform="translate(905.02 1486.4) rotate(-80)" text-anchor="end" font-style="italic" font-size="16.65" fill="#111" stroke="#111" stroke-width="0.5">GO:0005615 | extracellular space</text>
<text transform="translate(928.17 1486.4) rotate(-80)" text-anchor="end" font-style="italic" font-size="16.65" fill="#111" stroke="#111" stroke-width="0.5">GO:0005739 | mitochondrion</text>
<text transform="translate(951.32 1486.4) rotate(-80)" text-anchor="end" font-style="italic" font-size="16.65" fill="#111" stroke="#111" stroke-width="0.5">GO:0070062 | extracellular exosome</text>
<text transform="translate(974.47 1486.4) rotate(-80)" text-anchor="end" font-style="italic" font-size="16.65" fill="#111" stroke="#111" stroke-width="0.5">GO:0005829 | cytosol</text>
<text transform="translate(997.62 1486.4) rotate(-80)" text-anchor="end" font-style="italic" font-size="16.65" fill="#111" stroke="#111" stroke-width="0.5">GO:0005622 | intracellular anatomical structure</text>
<text transform="translate(1020.77 1486.4) rotate(-80)" text-anchor="end" font-style="italic" font-size="16.65" fill="#111" stroke="#111" stroke-width="0.5">GO:0043231 | intracellular membrane−bounded organelle</text>
<text transform="translate(1043.92 1486.4) rotate(-80)" text-anchor="end" font-style="italic" font-size="16.65" fill="#111" stroke="#111" stroke-width="0.5">GO:0005654 | nucleoplasm</text>
<rect x="1052.4" y="1164.6" width="228.9" height="310.8" fill="#fff"/>
<path d="M1055 1455.23H1278.7M1055 1414.89H1278.7M1055 1374.54H1278.7M1055 1334.2H1278.7M1055 1293.86H1278.7M1055 1253.51H1278.7M1055 1213.17H1278.7" stroke="#f5f5f5" stroke-width="0.8" fill="none"/>
<path d="M1055 1475.4H1278.7M1055 1435.06H1278.7M1055 1394.71H1278.7M1055 1354.37H1278.7M1055 1314.03H1278.7M1055 1273.69H1278.7M1055 1233.34H1278.7M1055 1193H1278.7M1062.82 1174.1V1475.4M1085.97 1174.1V1475.4M1109.12 1174.1V1475.4M1132.27 1174.1V1475.4M1155.42 1174.1V1475.4M1178.57 1174.1V1475.4M1201.72 1174.1V1475.4M1224.87 1174.1V1475.4M1248.02 1174.1V1475.4M1271.17 1174.1V1475.4" stroke="#ebeced" stroke-width="0.9" fill="none"/>
<rect x="1052.4" y="1309.99" width="20.84" height="165.41" fill="#efaa70" fill-opacity="0.93"/>
<rect x="1075.55" y="1366.47" width="20.84" height="108.93" fill="#efaa70" fill-opacity="0.93"/>
<rect x="1098.7" y="1374.54" width="20.84" height="100.86" fill="#efaa70" fill-opacity="0.93"/>
<rect x="1121.85" y="1382.61" width="20.84" height="92.79" fill="#efaa70" fill-opacity="0.93"/>
<rect x="1145" y="1382.61" width="20.84" height="92.79" fill="#efaa70" fill-opacity="0.93"/>
<rect x="1168.15" y="1394.71" width="20.84" height="80.69" fill="#efaa70" fill-opacity="0.93"/>
<rect x="1191.3" y="1406.82" width="20.84" height="68.58" fill="#efaa70" fill-opacity="0.93"/>
<rect x="1214.45" y="1406.82" width="20.84" height="68.58" fill="#efaa70" fill-opacity="0.93"/>
<rect x="1237.6" y="1410.85" width="20.84" height="64.55" fill="#efaa70" fill-opacity="0.93"/>
<rect x="1260.75" y="1414.89" width="20.84" height="60.51" fill="#efaa70" fill-opacity="0.93"/>
<rect x="1052.4" y="1164.6" width="228.9" height="7.7" fill="#f0954c"/>
<path d="M1052.4 1164.6V1475.4M1281.3 1164.6V1475.4" stroke="#4c4543" stroke-width="1.4" fill="none"/>
<path d="M1051.6 1475.4H1282.1" stroke="#5a5352" stroke-width="1.6" fill="none"/>
<path d="M1051.6 1165H1282.1" stroke="#2e2b2b" stroke-width="1.3" fill="none"/>
<text transform="translate(1166.85 1154.6) scale(1.095 1)" text-anchor="middle" font-weight="bold" font-size="18" fill="#ee8a3c">Molecular Function</text>
<text transform="translate(1073.82 1486.4) rotate(-80)" text-anchor="end" font-style="italic" font-size="16.65" fill="#111" stroke="#111" stroke-width="0.5">GO:0046872 | metal ion binding</text>
<text transform="translate(1096.97 1486.4) rotate(-80)" text-anchor="end" font-style="italic" font-size="16.65" fill="#111" stroke="#111" stroke-width="0.5">GO:0008270 | zinc ion binding</text>
<text transform="translate(1120.12 1486.4) rotate(-80)" text-anchor="end" font-style="italic" font-size="16.65" fill="#111" stroke="#111" stroke-width="0.5">GO:0003677 | DNA binding</text>
<text transform="translate(1143.27 1486.4) rotate(-80)" text-anchor="end" font-style="italic" font-size="16.65" fill="#111" stroke="#111" stroke-width="0.5">GO:0004842 | ubiquitin−protein transferase activity</text>
<text transform="translate(1166.42 1486.4) rotate(-80)" text-anchor="end" font-style="italic" font-size="16.65" fill="#111" stroke="#111" stroke-width="0.5">GO:0005524 | ATP binding</text>
<text transform="translate(1189.57 1486.4) rotate(-80)" text-anchor="end" font-style="italic" font-size="16.65" fill="#111" stroke="#111" stroke-width="0.5">GO:0005515 | protein binding</text>
<text transform="translate(1212.72 1486.4) rotate(-80)" text-anchor="end" font-style="italic" font-size="16.65" fill="#111" stroke="#111" stroke-width="0.5">GO:0003676 | nucleic acid binding</text>
<text transform="translate(1235.87 1486.4) rotate(-80)" text-anchor="end" font-style="italic" font-size="16.65" fill="#111" stroke="#111" stroke-width="0.5">GO:0003674 | molecular_function</text>
<text transform="translate(1259.02 1486.4) rotate(-80)" text-anchor="end" font-style="italic" font-size="16.65" fill="#111" stroke="#111" stroke-width="0.5">GO:0016787 | hydrolase activity</text>
<text transform="translate(1282.17 1486.4) rotate(-80)" text-anchor="end" font-style="italic" font-size="16.65" fill="#111" stroke="#111" stroke-width="0.5">GO:0005509 | calcium ion binding</text>
<text transform="translate(104.8 1481.4) scale(1.03 1)" text-anchor="end" font-size="16.6" fill="#111" stroke="#111" stroke-width="0.35">0</text>
<text transform="translate(104.8 1441.06) scale(1.03 1)" text-anchor="end" font-size="16.6" fill="#111" stroke="#111" stroke-width="0.35">10</text>
<text transform="translate(104.8 1400.71) scale(1.03 1)" text-anchor="end" font-size="16.6" fill="#111" stroke="#111" stroke-width="0.35">20</text>
<text transform="translate(104.8 1360.37) scale(1.03 1)" text-anchor="end" font-size="16.6" fill="#111" stroke="#111" stroke-width="0.35">30</text>
<text transform="translate(104.8 1320.03) scale(1.03 1)" text-anchor="end" font-size="16.6" fill="#111" stroke="#111" stroke-width="0.35">40</text>
<text transform="translate(104.8 1279.69) scale(1.03 1)" text-anchor="end" font-size="16.6" fill="#111" stroke="#111" stroke-width="0.35">50</text>
<text transform="translate(104.8 1239.34) scale(1.03 1)" text-anchor="end" font-size="16.6" fill="#111" stroke="#111" stroke-width="0.35">60</text>
<text transform="translate(104.8 1199) scale(1.03 1)" text-anchor="end" font-size="16.6" fill="#111" stroke="#111" stroke-width="0.35">70</text>
<text transform="translate(54.6 1320) rotate(-90) scale(1 1.08)" text-anchor="middle" font-weight="bold" font-size="25.9" fill="#000">Gene Number</text>
<text x="697" y="2071.2" text-anchor="middle" font-weight="bold" font-size="26" fill="#000">GO Term</text>
<text transform="translate(9.6 1141.8) scale(0.965 1)" font-family="Liberation Serif, serif" font-weight="bold" font-size="120.3" fill="#231815">B</text>
</g>
</g>
</svg>
</body></html>
